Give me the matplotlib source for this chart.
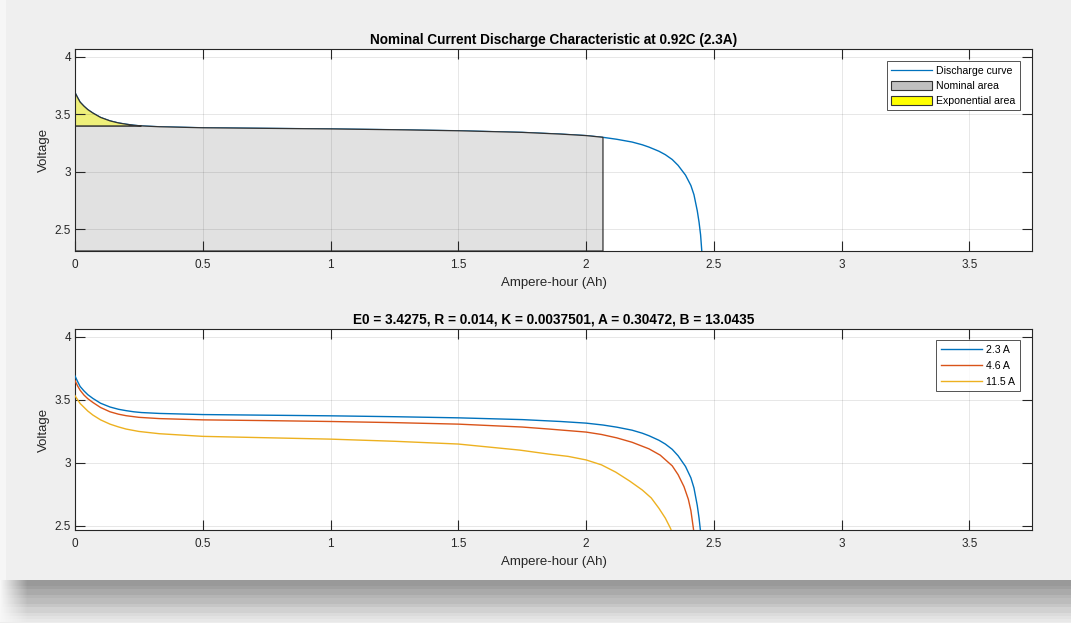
import numpy as np
import matplotlib
matplotlib.use("Agg")
import matplotlib.pyplot as plt
from matplotlib.patches import Patch
from matplotlib.lines import Line2D

plt.rcParams['font.family'] = ['Liberation Sans', 'DejaVu Sans']

# values
ah_23 = [0.0, 0.01, 0.02, 0.035, 0.05, 0.07, 0.10, 0.137, 0.17, 0.20, 0.23, 0.26, 0.33,
         0.50, 0.75, 1.00, 1.25, 1.50, 1.75, 1.90, 2.00, 2.066, 2.12, 2.18, 2.22,
         2.246, 2.285, 2.31, 2.337, 2.36, 2.389, 2.41, 2.422, 2.435, 2.442, 2.448, 2.453]
v_23 = [3.688, 3.645, 3.605, 3.57, 3.54, 3.51, 3.472, 3.442, 3.424, 3.413, 3.404, 3.398, 3.391,
        3.382, 3.377, 3.372, 3.365, 3.356, 3.342, 3.327, 3.314, 3.299, 3.282, 3.258, 3.234,
        3.214, 3.178, 3.148, 3.106, 3.055, 2.970, 2.88, 2.80, 2.66, 2.56, 2.45, 2.30]

ah_46 = [0.0, 0.01, 0.02, 0.035, 0.05, 0.07, 0.10, 0.137, 0.17, 0.20, 0.25, 0.33, 0.50,
         0.75, 1.00, 1.25, 1.50, 1.75, 1.855, 2.00, 2.06, 2.12, 2.18, 2.246, 2.29,
         2.337, 2.36, 2.383, 2.40, 2.41, 2.419, 2.425]
v_46 = [3.651, 3.61, 3.575, 3.537, 3.508, 3.478, 3.438, 3.404, 3.385, 3.373, 3.360, 3.350, 3.340,
        3.334, 3.327, 3.318, 3.306, 3.283, 3.267, 3.243, 3.224, 3.197, 3.162, 3.110, 3.060,
        2.975, 2.905, 2.81, 2.71, 2.62, 2.49, 2.40]

ah_115 = [0.0, 0.01, 0.02, 0.035, 0.05, 0.07, 0.10, 0.137, 0.17, 0.20, 0.25, 0.33, 0.50,
          0.75, 1.00, 1.25, 1.50, 1.74, 1.855, 1.93, 2.00, 2.06, 2.116, 2.17, 2.22,
          2.255, 2.285, 2.31, 2.33, 2.345]
v_115 = [3.532, 3.50, 3.47, 3.44, 3.41, 3.378, 3.340, 3.306, 3.284, 3.267, 3.248, 3.230, 3.209,
         3.198, 3.187, 3.170, 3.148, 3.100, 3.068, 3.050, 3.022, 2.983, 2.925, 2.855, 2.783,
         2.72, 2.638, 2.56, 2.48, 2.40]

q_exp, v_exp = 0.26, 3.398
q_nom = 2.066

x_ticks = [0, 0.5, 1, 1.5, 2, 2.5, 3, 3.5]
y_ticks = [2.5, 3, 3.5, 4]

blue, red, gold = '#0072BD', '#D95319', '#EDB120'
dark = '#262626'

fig = plt.figure(figsize=(10.71, 6.23), dpi=100)
fig.patch.set_facecolor('#f0f0f0')

# window background with drop shadow at the bottom
bg = np.full((623, 1071, 3), 0.941)
bg[:, :6] = 0.965
shadow = [0.60, 0.60, 0.63, 0.67, 0.67, 0.71, 0.74, 0.74, 0.78, 0.82, 0.82, 0.86, 0.89, 0.91]
for i, s in enumerate(shadow):
    rows = slice(580 + i * 3, 580 + i * 3 + 3)
    bg[rows, :] = s
    fade = np.linspace(0.97, s, 28)
    bg[rows, :28] = fade[None, :, None].repeat(3, axis=0)
bg[622:, :] = 0.93
bax = fig.add_axes([0, 0, 1, 1], zorder=-5)
bax.imshow(bg, aspect='auto', interpolation='nearest')
bax.axis('off')


def style(ax, ylim):
    ax.set_xlim(0, 3.745)
    ax.set_ylim(*ylim)
    ax.set_xticks(x_ticks)
    ax.set_xticklabels(['0', '0.5', '1', '1.5', '2', '2.5', '3', '3.5'])
    ax.set_yticks(y_ticks)
    ax.set_yticklabels(['2.5', '3', '3.5', '4'])
    ax.set_axisbelow(False)
    ax.grid(True, color=dark, alpha=0.13, lw=0.6)
    ax.tick_params(direction='in', length=7, width=0.8, colors=dark,
                   labelsize=8.5, top=True, right=True)
    ax.tick_params(axis='x', pad=6)
    ax.tick_params(axis='y', pad=3)
    for sp in ax.spines.values():
        sp.set_color(dark)
        sp.set_linewidth(0.8)
    ax.set_xlabel('Ampere-hour (Ah)', fontsize=9.5, color=dark, labelpad=4)
    ax.set_ylabel('Voltage', fontsize=9.5, color=dark, labelpad=3)


# top: nominal discharge characteristic
ax1 = fig.add_axes([0.07003, 0.5971, 0.8936, 0.3238])
style(ax1, (2.31, 4.065))
ah = np.array(ah_23)
v = np.array(v_23)
ax1.plot(ah, v, color=blue, lw=1.0, zorder=1.5)

ymin = ax1.get_ylim()[0]
m = (ah >= q_exp) & (ah <= q_nom)
px = np.concatenate([[0, 0, q_exp], ah[m], [q_nom]])
py = np.concatenate([[ymin, v_exp, v_exp], v[m], [ymin]])
ax1.fill(px, py, facecolor='#e1e1e1', edgecolor='#333333', lw=0.9, zorder=1.6)

me = ah <= q_exp
ex = np.concatenate([ah[me], [0]])
ey = np.concatenate([v[me], [v_exp]])
ax1.fill(ex, ey, facecolor='#eff07a', edgecolor='#333333', lw=0.9, zorder=1.7)

ax1.set_title('Nominal Current Discharge Characteristic at 0.92C (2.3A)',
              fontsize=9.8, fontweight='bold', color='black', pad=4)
h1 = [Line2D([], [], color=blue, lw=0.9),
      Patch(facecolor='#c0c0c0', edgecolor='#333333', lw=0.8),
      Patch(facecolor='#ffff00', edgecolor='#333333', lw=0.8)]
leg1 = ax1.legend(h1, ['Discharge curve', 'Nominal area', 'Exponential area'],
                  loc='upper right', bbox_to_anchor=(0.9872, 0.9406), borderaxespad=0,
                  fontsize=7.6, frameon=True, fancybox=False, handlelength=3.9,
                  handleheight=1.0, handletextpad=0.4, labelspacing=0.45,
                  borderpad=0.4)
leg1.get_frame().set_edgecolor(dark)
leg1.get_frame().set_linewidth(0.7)

# bottom: discharge curves for several currents
ax2 = fig.add_axes([0.07003, 0.1493, 0.8936, 0.3222])
style(ax2, (2.466, 4.059))
ax2.plot(ah_23, v_23, color=blue, lw=1.0, label='2.3 A', zorder=3)
ax2.plot(ah_46, v_46, color=red, lw=1.0, label='4.6 A', zorder=3)
ax2.plot(ah_115, v_115, color=gold, lw=1.0, label='11.5 A', zorder=3)
ax2.set_title('E0 = 3.4275, R = 0.014, K = 0.0037501, A = 0.30472, B = 13.0435',
              fontsize=9.8, fontweight='bold', color='black', pad=4)
leg2 = ax2.legend(loc='upper right', bbox_to_anchor=(0.9872, 0.945), borderaxespad=0,
                  fontsize=7.6, frameon=True, fancybox=False, handlelength=3.9,
                  handletextpad=0.4, labelspacing=0.55, borderpad=0.45)
leg2.get_frame().set_edgecolor(dark)
leg2.get_frame().set_linewidth(0.7)

fig.savefig('out.png', dpi=100, facecolor=fig.get_facecolor())
